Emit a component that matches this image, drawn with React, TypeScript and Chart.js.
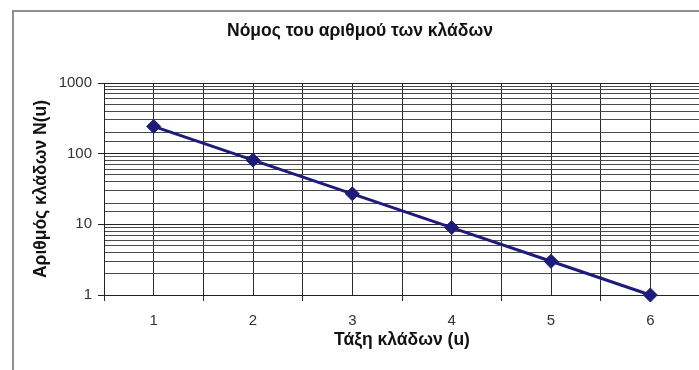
import React, { useEffect, useRef } from "react";
import { Chart, registerables } from "chart.js";

Chart.register(...registerables);

const chartTitle = "Νόμος του αριθμού των κλάδων";
const xAxisTitle = "Τάξη κλάδων (u)";
const yAxisTitle = "Αριθμός κλάδων N(u)";
const categories = [1, 2, 3, 4, 5, 6];
const branchCounts = [243, 81, 27, 9, 3, 1];
const yTickLabels = [1, 10, 100, 1000];

const FONT = "'Liberation Sans', Arial, sans-serif";
const LINE_COLOR = "#1e1b7a";

const framePlugin = {
  id: "frame",
  beforeDraw(chart: any) {
    const ctx = chart.ctx;
    ctx.save();
    ctx.strokeStyle = "#8f8f8f";
    ctx.lineWidth = 2;
    ctx.strokeRect(13, 11, chart.width + 40, chart.height + 40);
    ctx.restore();
  },
};

export default function App() {
  const canvasRef = useRef<HTMLCanvasElement | null>(null);

  useEffect(() => {
    if (!canvasRef.current) return;
    const chart = new Chart(canvasRef.current, {
      type: "line",
      data: {
        datasets: [
          {
            data: categories.map((c, i) => ({ x: c, y: branchCounts[i] })),
            borderColor: LINE_COLOR,
            backgroundColor: LINE_COLOR,
            borderWidth: 3,
            pointStyle: "rectRot",
            pointRadius: 7,
            pointHoverRadius: 7,
            pointBorderWidth: 1,
            pointBackgroundColor: LINE_COLOR,
            pointBorderColor: LINE_COLOR,
            clip: false as any,
            tension: 0,
          },
        ],
      },
      options: {
        animation: false,
        responsive: true,
        maintainAspectRatio: false,
        layout: { padding: { left: 20, right: 10, top: 0, bottom: 0 } },
        plugins: {
          legend: { display: false },
          tooltip: { enabled: false },
          title: {
            display: true,
            text: chartTitle,
            color: "#111",
            font: { family: FONT, size: 17.5, weight: "bold" },
            padding: { top: 21, bottom: 41 },
          },
        },
        scales: {
          x: {
            type: "linear",
            min: 0.5,
            max: 6.5,
            afterFit: (s: any) => {
              s.height = 75;
              s.paddingRight = 0;
              s.paddingLeft = 0;
            },
            afterBuildTicks: (s: any) => {
              const t: any[] = [];
              for (let v = 0.5; v <= 6.5 + 1e-9; v += 0.5) t.push({ value: v });
              s.ticks = t;
            },
            title: {
              display: true,
              text: xAxisTitle,
              color: "#111",
              font: { family: FONT, size: 17.5, weight: "bold" },
              padding: { top: 0, bottom: 19 },
            },
            ticks: {
              autoSkip: false,
              maxRotation: 0,
              padding: 0,
              color: "#333",
              font: { family: FONT, size: 15, lineHeight: 2.7 },
              callback: (v: any) => (categories.includes(Number(v)) ? String(v) : ""),
            },
            grid: {
              color: "#2a2a2a",
              lineWidth: 1,
              tickLength: 6,
              tickColor: (ctx: any) =>
                ctx.tick && Number.isInteger(ctx.tick.value) ? "rgba(0,0,0,0)" : "#2a2a2a",
            },
            border: { color: "#222", width: 1 },
          },
          y: {
            type: "logarithmic",
            min: 1,
            max: 1000,
            afterFit: (s: any) => {
              s.width = 84;
            },
            title: {
              display: true,
              text: yAxisTitle,
              color: "#111",
              font: { family: FONT, size: 17.5, weight: "bold" },
              padding: { top: 11, bottom: 0 },
            },
            ticks: {
              autoSkip: false,
              padding: 6,
              color: "#333",
              font: { family: FONT, size: 15 },
              callback: (v: any) => (yTickLabels.includes(Number(v)) ? String(v) : ""),
            },
            grid: {
              color: (ctx: any) =>
                ctx.tick && yTickLabels.includes(ctx.tick.value) ? "#222" : "#4a4a4a",
              lineWidth: 1,
              tickLength: 6,
              tickColor: (ctx: any) =>
                ctx.tick && yTickLabels.includes(ctx.tick.value) ? "#222" : "rgba(0,0,0,0)",
            },
            border: { color: "#222", width: 1 },
          },
        },
      },
      plugins: [framePlugin],
    } as any);
    return () => chart.destroy();
  }, []);

  return (
    <div style={{ position: "fixed", left: 0, top: 0, width: 710, height: 370, background: "#fff" }}>
      <canvas ref={canvasRef} />
    </div>
  );
}
